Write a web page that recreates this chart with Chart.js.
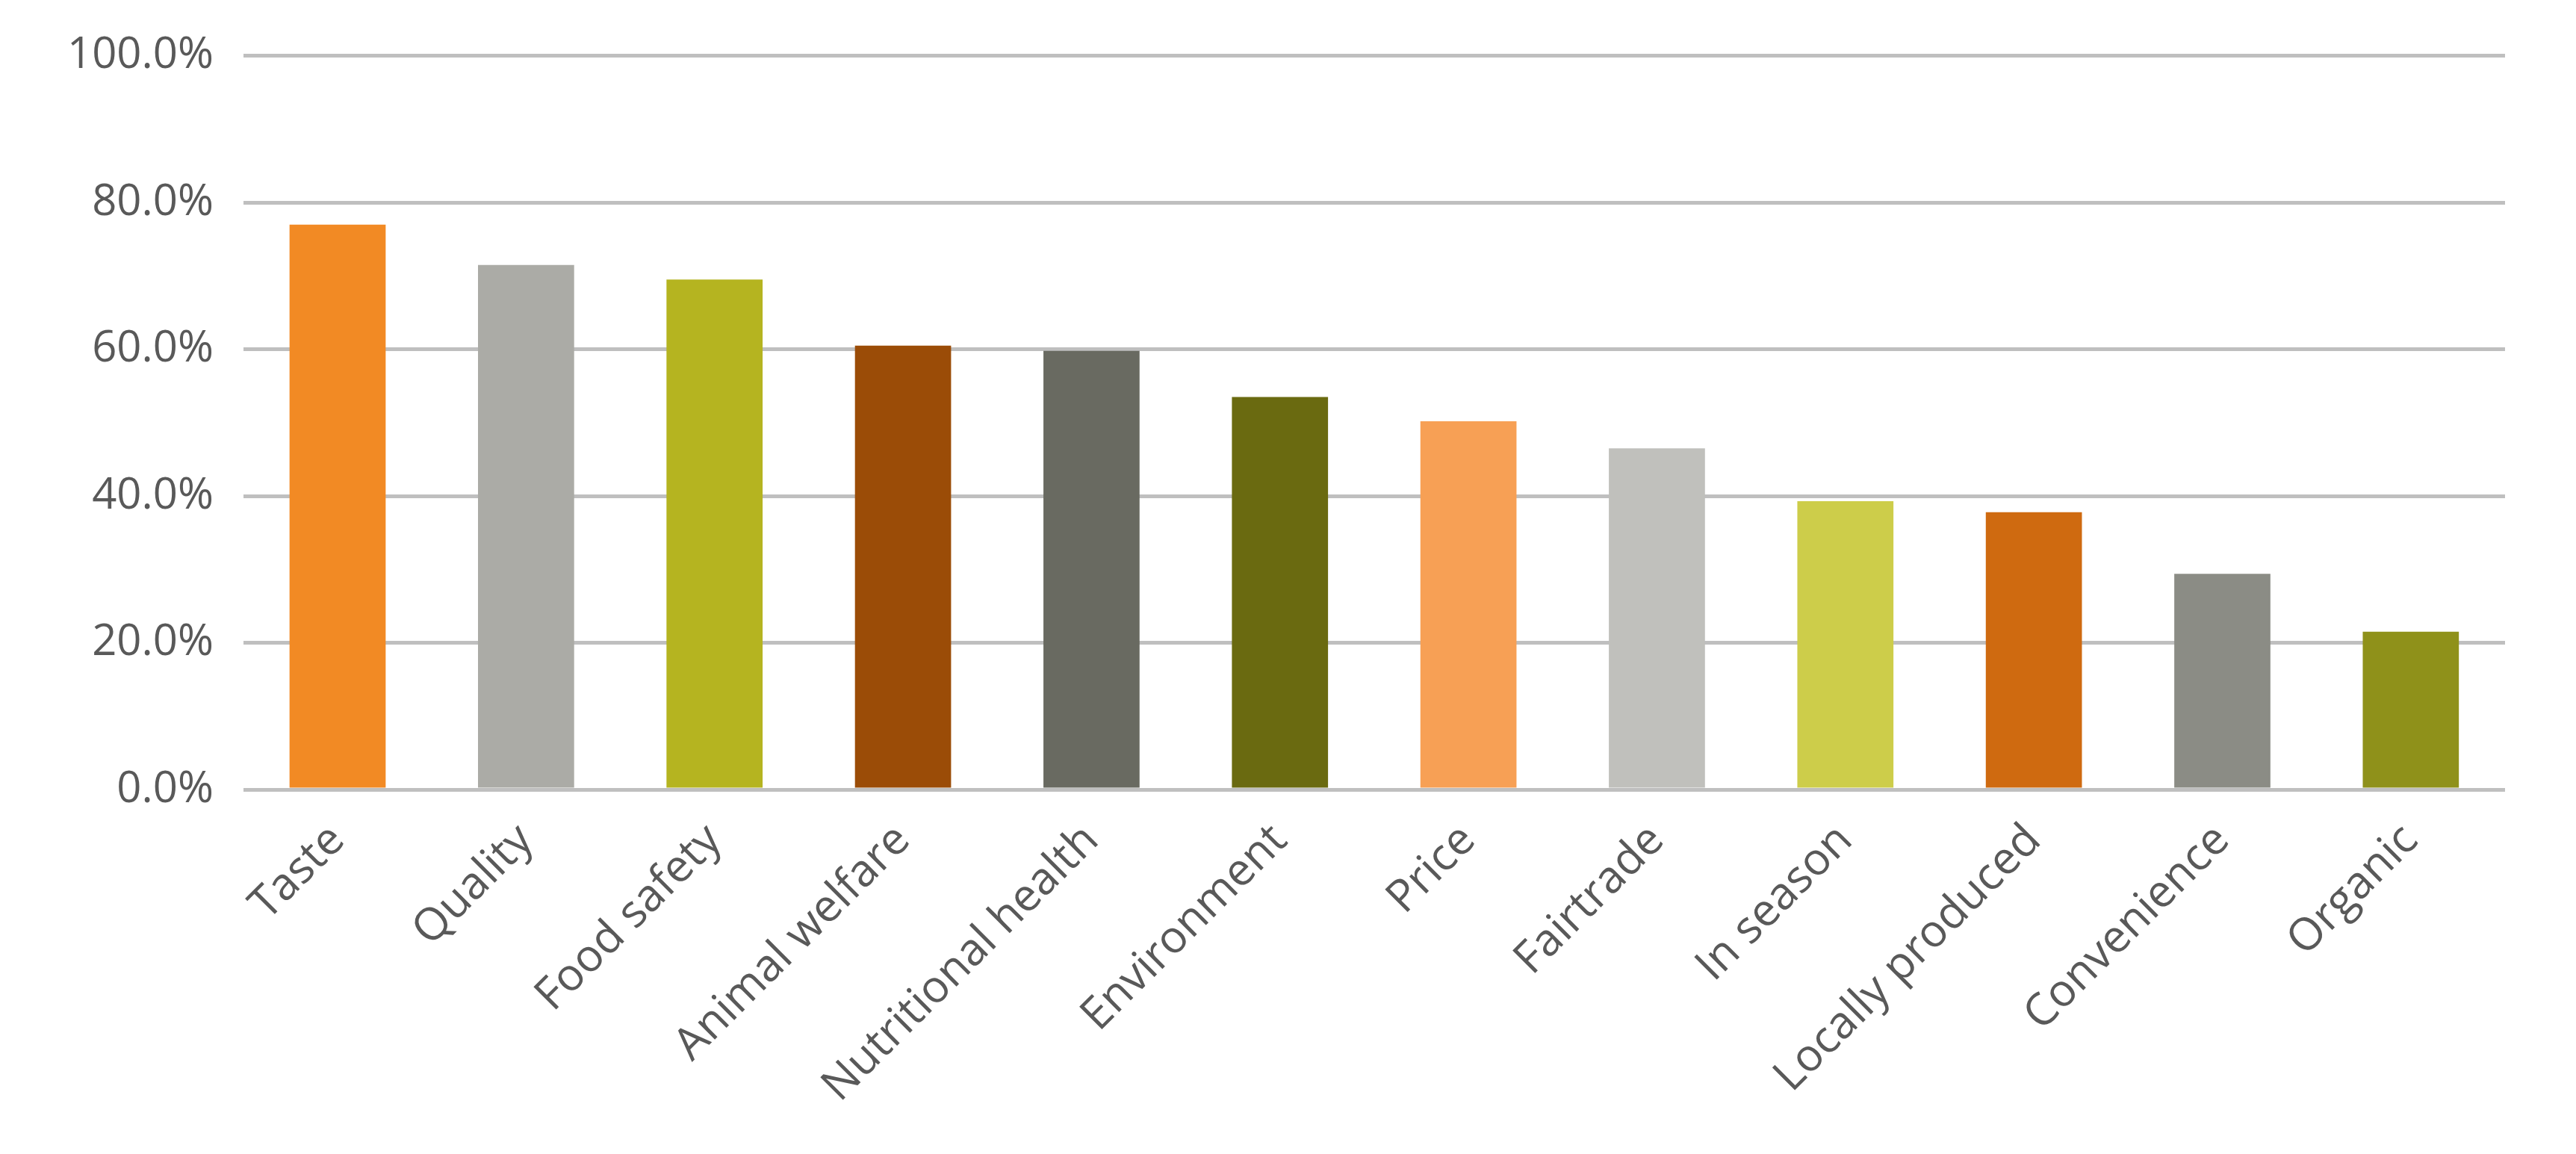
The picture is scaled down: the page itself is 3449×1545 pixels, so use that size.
<!DOCTYPE html>
<html><head><meta charset="utf-8">
<script src="https://cdn.jsdelivr.net/npm/chart.js@4"></script>
<style>html,body{margin:0;padding:0;background:#fff}#w{width:3449px;height:1545px}</style>
</head><body><div id="w"><canvas id="c"></canvas></div>
<script>
const categories = ["Taste","Quality","Food safety","Animal welfare","Nutritional health","Environment","Price","Fairtrade","In season","Locally produced","Convenience","Organic"];
const values = [77.0,71.5,69.5,60.5,59.8,53.5,50.2,46.5,39.3,37.8,29.4,21.5];
const colors = ["#F28A24","#ABABA6","#B5B420","#9B4C07","#696A61","#6A6A10","#F7A055","#C0C0BC","#CDCD4A","#CF6A10","#8B8C85","#8F911A"];
const yTicks = [0,20,40,60,80,100];
new Chart(document.getElementById('c'), {
  type: 'bar',
  data: { labels: categories, datasets: [{ data: values, backgroundColor: colors, borderWidth: 0, barPercentage: 0.51, categoryPercentage: 1 }] },
  options: {
    responsive: true, maintainAspectRatio: false, animation: false,
    layout: { padding: { left: 50, right: 95, top: 40, bottom: 30 } },
    plugins: { legend: { display: false }, tooltip: { enabled: false } },
    scales: {
      x: { grid: { display: false }, border: { display: false },
        ticks: { color: '#595959', font: { family: 'Open Sans', size: 60 }, maxRotation: 45, minRotation: 45, padding: 25 } },
      y: { min: 0, max: 100, afterBuildTicks: a => { a.ticks = yTicks.map(v => ({ value: v })); },
        grid: { color: '#BFBFBF', lineWidth: 5, drawTicks: false }, border: { display: false },
        ticks: { color: '#595959', font: { family: 'Open Sans', size: 58 }, padding: 40, callback: v => v.toFixed(1) + '%' } }
    }
  }
});
</script></body></html>
